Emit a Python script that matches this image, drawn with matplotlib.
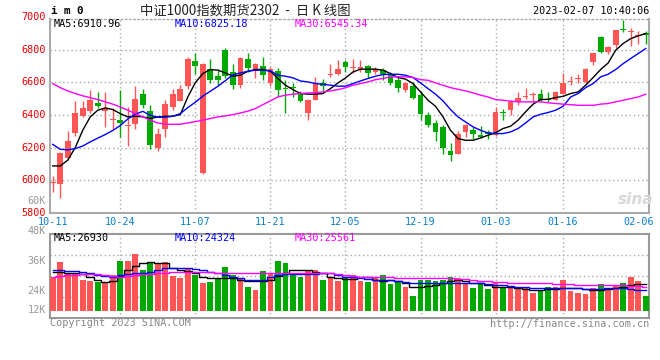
import numpy as np
import matplotlib.pyplot as plt
from matplotlib.transforms import blended_transform_factory

plt.rcParams['font.family'] = ['DejaVu Sans Mono']

# ---- data (80 trading days, 2022-10-11 .. 2023-02-07) ----
opens = [5985, 5980, 6139, 6290, 6392, 6425, 6474, 6425, 6372, 6372,
         6335, 6343, 6527, 6423, 6198, 6312, 6449, 6486, 6578, 6731,
         6045, 6684, 6637, 6796, 6663, 6586, 6741, 6670, 6700, 6596,
         6670, 6565, 6570, 6537, 6412, 6494, 6596, 6645, 6649, 6725,
         6688, 6680, 6698, 6663, 6674, 6653, 6612, 6555, 6578, 6521,
         6402, 6351, 6327, 6180, 6164, 6296, 6310, 6280, 6296, 6276,
         6419, 6429, 6480, 6508, 6522, 6531, 6498, 6494, 6531, 6604,
         6620, 6602, 6725, 6878, 6786, 6827, 6924, 6905, 6885, 6902]
highs = [6025, 6175, 6300, 6486, 6486, 6555, 6541, 6540, 6440, 6555,
         6449, 6576, 6561, 6459, 6320, 6494, 6561, 6583, 6755, 6776,
         6718, 6745, 6684, 6810, 6714, 6752, 6776, 6718, 6755, 6694,
         6690, 6612, 6596, 6547, 6500, 6633, 6620, 6714, 6739, 6735,
         6745, 6739, 6705, 6694, 6688, 6663, 6630, 6602, 6602, 6547,
         6420, 6368, 6337, 6229, 6302, 6343, 6327, 6333, 6306, 6449,
         6439, 6494, 6541, 6567, 6541, 6561, 6541, 6547, 6657, 6637,
         6649, 6690, 6780, 6882, 6820, 6922, 6980, 6929, 6914, 6912]
lows = [5930, 5890, 6127, 6270, 6388, 6410, 6445, 6325, 6317, 6262,
        6208, 6317, 6445, 6194, 6180, 6262, 6433, 6484, 6561, 6653,
        6040, 6596, 6582, 6629, 6561, 6567, 6663, 6629, 6616, 6576,
        6510, 6412, 6510, 6480, 6368, 6490, 6547, 6633, 6645, 6663,
        6657, 6663, 6629, 6653, 6612, 6582, 6541, 6541, 6500, 6372,
        6327, 6241, 6164, 6119, 6160, 6262, 6255, 6257, 6255, 6270,
        6368, 6398, 6459, 6500, 6480, 6486, 6480, 6490, 6527, 6582,
        6596, 6582, 6708, 6780, 6772, 6812, 6908, 6820, 6833, 6833]
closes = [5990, 6168, 6241, 6412, 6445, 6490, 6455, 6443, 6378, 6352,
          6338, 6498, 6463, 6219, 6286, 6466, 6527, 6560, 6745, 6698,
          6710, 6612, 6612, 6637, 6586, 6749, 6688, 6714, 6643, 6684,
          6551, 6558, 6562, 6486, 6494, 6596, 6576, 6650, 6684, 6694,
          6692, 6694, 6659, 6684, 6653, 6598, 6567, 6596, 6504, 6408,
          6341, 6296, 6200, 6157, 6282, 6337, 6286, 6262, 6284, 6419,
          6410, 6480, 6506, 6512, 6526, 6490, 6494, 6541, 6596, 6610,
          6625, 6684, 6776, 6786, 6816, 6918, 6920, 6910, 6890, 6890]

ma5 = [6088, 6088, 6123, 6200, 6306, 6388, 6429, 6443, 6433, 6408,
       6388, 6392, 6388, 6378, 6388, 6392, 6392, 6402, 6510, 6598,
       6653, 6678, 6674, 6657, 6637, 6643, 6667, 6678, 6678, 6667,
       6623, 6582, 6555, 6531, 6527, 6527, 6531, 6561, 6596, 6626,
       6663, 6680, 6680, 6680, 6674, 6653, 6629, 6619, 6592, 6541,
       6490, 6453, 6388, 6306, 6255, 6245, 6245, 6259, 6276, 6291,
       6317, 6331, 6368, 6419, 6466, 6494, 6496, 6506, 6514, 6531,
       6541, 6582, 6629, 6678, 6718, 6796, 6837, 6867, 6884, 6898]
ma10 = [6220, 6190, 6186, 6194, 6210, 6235, 6258, 6280, 6305, 6335,
        6375, 6405, 6422, 6398, 6386, 6386, 6392, 6408, 6445, 6478,
        6515, 6545, 6575, 6610, 6645, 6657, 6667, 6674, 6674, 6670,
        6643, 6637, 6627, 6608, 6602, 6592, 6588, 6582, 6576, 6576,
        6592, 6608, 6623, 6637, 6647, 6649, 6649, 6643, 6629, 6596,
        6561, 6527, 6486, 6433, 6388, 6357, 6327, 6306, 6290, 6286,
        6286, 6296, 6317, 6351, 6388, 6404, 6415, 6429, 6453, 6510,
        6531, 6567, 6592, 6633, 6649, 6678, 6714, 6745, 6776, 6806]
ma30 = [6592, 6567, 6547, 6531, 6517, 6506, 6494, 6480, 6466, 6449,
        6429, 6408, 6388, 6368, 6351, 6343, 6343, 6343, 6351, 6359,
        6368, 6378, 6388, 6394, 6402, 6412, 6423, 6439, 6463, 6486,
        6510, 6521, 6527, 6531, 6535, 6535, 6541, 6547, 6555, 6566,
        6582, 6592, 6602, 6616, 6623, 6633, 6633, 6633, 6629, 6616,
        6612, 6596, 6582, 6567, 6557, 6547, 6535, 6521, 6510, 6494,
        6490, 6484, 6480, 6480, 6480, 6480, 6474, 6470, 6466, 6463,
        6459, 6459, 6459, 6466, 6470, 6480, 6490, 6500, 6510, 6527]

volumes = [29730, 35730, 31070, 30670, 28400, 28000, 27730, 27330, 30400, 36130,
           36130, 38930, 32400, 35470, 35070, 35470, 30000, 29330, 32800, 30400,
           27330, 27730, 29070, 33600, 30400, 28800, 25600, 24400, 32000, 31330,
           36130, 35330, 30400, 29730, 32000, 32400, 28400, 29730, 28000, 29470,
           30400, 28000, 27730, 29730, 30400, 26800, 28000, 25600, 22000, 28400,
           28400, 28000, 28400, 29730, 29330, 27070, 25330, 27070, 24800, 27730,
           25730, 25730, 25330, 25330, 23330, 24400, 25730, 25730, 28400, 24000,
           23330, 22800, 25330, 26800, 25070, 26400, 27330, 29470, 28000, 22000]
vma5 = [31730, 31730, 31070, 31070, 30670, 29730, 28400, 27730, 28000, 30000,
        32400, 34000, 35070, 35470, 35070, 35070, 33070, 32400, 32130, 31070,
        29730, 29070, 29070, 29070, 29070, 28400, 28130, 28000, 28000, 28400,
        30000, 31070, 32400, 32400, 32400, 31730, 31070, 29470, 29070, 28670,
        28800, 29470, 29730, 28400, 28000, 28400, 28000, 27330, 25730, 25730,
        26000, 26400, 27330, 28000, 28400, 28000, 27330, 27070, 26400, 25730,
        25730, 25470, 25070, 24670, 24400, 24400, 24670, 24670, 25070, 25330,
        25330, 24670, 24400, 24400, 24670, 25070, 25730, 26400, 26670, 26930]
vma10 = [32400, 32270, 32130, 32000, 31730, 31070, 30400, 30000, 29730, 30400,
         30800, 31070, 31330, 31730, 32400, 33070, 33070, 33070, 33070, 32670,
         32400, 31730, 31070, 30400, 29730, 29070, 28400, 28400, 28400, 29470,
         30400, 30670, 30670, 30670, 30670, 30800, 31070, 31070, 30400, 29730,
         29470, 29070, 28670, 28400, 28400, 28400, 28130, 27730, 27330, 27330,
         27070, 27070, 27070, 27070, 27070, 27070, 27070, 27070, 26800, 26400,
         26400, 26000, 25730, 25730, 25330, 25070, 25070, 25070, 25330, 25330,
         25070, 24670, 24670, 24800, 25070, 25070, 25070, 24800, 24530, 24320]
vma30 = [29730, 30000, 30270, 30530, 30800, 30800, 30670, 30400, 30000, 29730,
         30000, 30400, 30670, 30800, 31070, 31330, 31600, 31730, 31730, 31730,
         31600, 31470, 31330, 31330, 31330, 31330, 31330, 31330, 31330, 31330,
         31330, 31330, 31330, 31330, 31330, 31330, 31200, 31070, 30800, 30400,
         30000, 29730, 29470, 29470, 29470, 29470, 29330, 29070, 29070, 29070,
         29070, 29070, 29070, 29070, 28930, 28670, 28400, 28130, 28000, 27730,
         27600, 27330, 27330, 27330, 27070, 27070, 27070, 26800, 26800, 26800,
         26400, 26400, 26400, 26400, 26400, 26400, 26400, 26000, 26000, 25560]

date_ticks = [0, 9, 19, 29, 39, 49, 59, 68, 78]
date_labels = ['10-11', '10-24', '11-07', '11-21', '12-05', '12-19', '01-03', '01-16', '02-06']
price_labels = [5800, 6000, 6200, 6400, 6600, 6800, 7000]
vol_labels = ['60K', '48K', '36K', '24K', '12K']
vol_label_vals = [60000, 48000, 36000, 24000, 16400]

RED = '#ff5555'
GREEN = '#00a800'
GRID = '#aaaaaa'
DOT = (0, (1, 2))
FS = 7.3

W, H = 660, 360
fig = plt.figure(figsize=(W / 100, H / 100), dpi=100)


def fx(px):
    return px / W


def fy(py):
    return 1 - py / H


ax = fig.add_axes([fx(50), fy(213), (649 - 50) / W, (213 - 19) / H])
axv = fig.add_axes([fx(50), fy(318), (649 - 50) / W, (318 - 234) / H])

o = np.array(opens, float)
c = np.array(closes, float)
x = np.arange(len(o))
cols = np.where(c >= o, RED, GREEN)

# candles
ax.vlines(x, lows, highs, colors=cols, lw=1, zorder=3)
ax.bar(x, np.maximum(np.abs(c - o), 6), bottom=np.minimum(o, c), width=0.76,
       color=cols, linewidth=0, zorder=4)
ax.plot(x, ma5, color='black', lw=1, zorder=5)
ax.plot(x, ma10, color='#0000ff', lw=1, zorder=5)
ax.plot(x, ma30, color='#ff00ff', lw=1, zorder=5)

ax.set_xlim(-0.36, 79.44)
ax.set_ylim(5800, 6987)
ax.set_yticks(range(6000, 6801, 200))
ax.set_xticks(date_ticks[1:-1])
ax.tick_params(length=0, labelleft=False, labelbottom=False)
ax.grid(True, color=GRID, ls=DOT, lw=1)
for s in ax.spines.values():
    s.set_color(GRID)
    s.set_linewidth(1.5)
ax.spines['top'].set_linestyle(DOT)
ax.spines['top'].set_linewidth(1)

tr = blended_transform_factory(fig.transFigure, ax.transData)
for p in price_labels:
    ax.text(fx(46), p, str(p), transform=tr, ha='right', va='center',
            color='#ee0000', fontsize=FS, clip_on=False)

trx = blended_transform_factory(ax.transData, fig.transFigure)
for t, lab in zip(date_ticks, date_labels):
    ax.text(t, fy(222), lab, transform=trx, ha='center', va='center',
            color='#0a7fd0', fontsize=FS)

ax.text(fx(54), fy(24), 'MA5:6910.96', transform=fig.transFigure, va='center',
        color='black', fontsize=FS)
ax.text(fx(175), fy(24), 'MA10:6825.18', transform=fig.transFigure, va='center',
        color='#0000ff', fontsize=FS)
ax.text(fx(295), fy(24), 'MA30:6545.34', transform=fig.transFigure, va='center',
        color='#ff00ff', fontsize=FS)
ax.text(fx(636), fy(199), 'sina', transform=fig.transFigure, ha='center', va='center',
        color='#d8d8d8', fontsize=11, fontweight='bold', style='italic',
        family='DejaVu Sans')

# volume
base = 16000
v = np.array(volumes, float)
axv.bar(x, v - base, bottom=base, width=0.76, color=cols, linewidth=0, zorder=3)
axv.plot(x, vma5, color='black', lw=1, drawstyle='steps-mid', zorder=4)
axv.plot(x, vma10, color='#0000ff', lw=1, drawstyle='steps-mid', zorder=4)
axv.plot(x, vma30, color='#ff00ff', lw=1, drawstyle='steps-mid', zorder=4)
axv.set_xlim(-0.36, 79.44)
axv.set_ylim(13200, 46800)
axv.set_yticks(np.linspace(13200, 46800, 5)[1:-1])
axv.set_xticks(date_ticks[1:-1])
axv.tick_params(length=0, labelleft=False, labelbottom=False)
axv.grid(True, color=GRID, ls=DOT, lw=1)
for s in axv.spines.values():
    s.set_color('#999999')
    s.set_linewidth(1.5)

trv = blended_transform_factory(fig.transFigure, axv.transData)
for val, lab in zip(vol_label_vals, vol_labels):
    axv.text(fx(46), val, lab, transform=trv, ha='right', va='center',
             color='#999999', fontsize=FS, clip_on=False)

axv.text(fx(54), fy(238), 'MA5:26930', transform=fig.transFigure, va='center',
         color='black', fontsize=FS)
axv.text(fx(175), fy(238), 'MA10:24324', transform=fig.transFigure, va='center',
         color='#0000ff', fontsize=FS)
axv.text(fx(295), fy(238), 'MA30:25561', transform=fig.transFigure, va='center',
         color='#ff00ff', fontsize=FS)

# header / footer
fig.text(fx(51), fy(11), 'i m 0', va='center', fontsize=FS + 0.5, fontweight='bold')
fig.text(fx(140), fy(11), '中证1000指数期货2302  -  日 K 线图', va='center',
         fontsize=9.6, color='#222222', family=['Noto Sans CJK SC', 'DejaVu Sans'])
fig.text(fx(649), fy(11), '2023-02-07 10:40:06', ha='right', va='center', fontsize=FS)
fig.text(fx(50), fy(323), 'Copyright 2023 SINA.COM', va='center',
         color='#888888', fontsize=FS)
fig.text(fx(649), fy(324), 'http://finance.sina.com.cn', ha='right', va='center',
         color='#888888', fontsize=FS)

fig.savefig('out.png', dpi=100, facecolor='white')
